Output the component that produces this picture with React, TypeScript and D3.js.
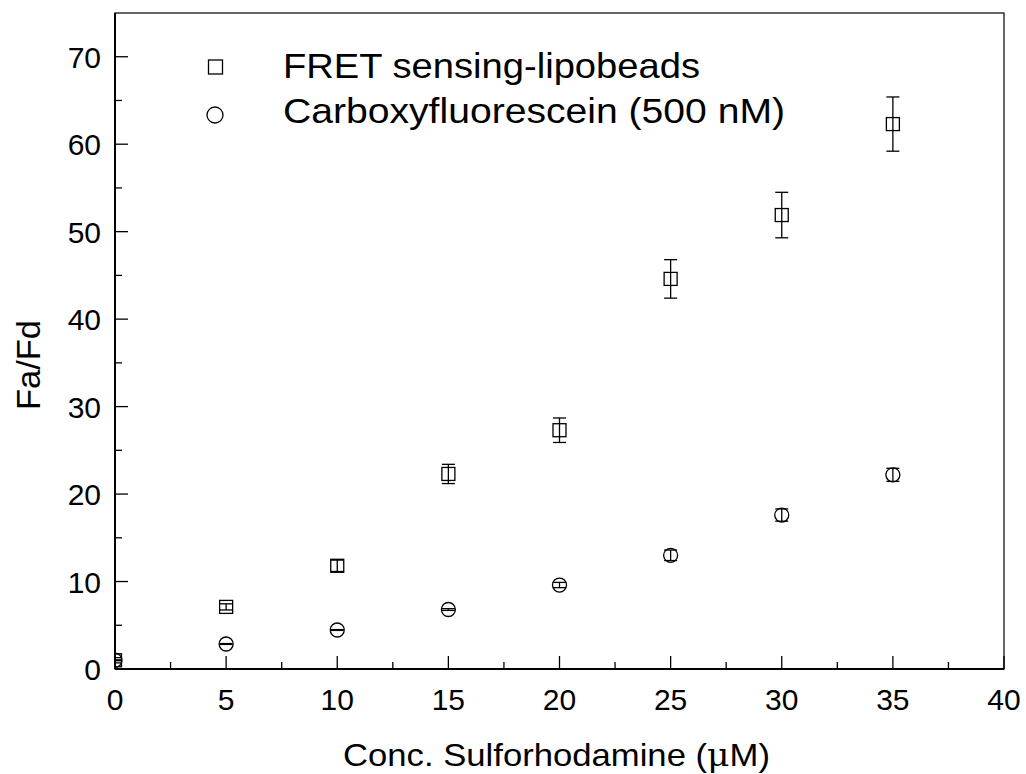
import React from "react";
import * as d3 from "d3";

const concentrations = [0, 5, 10, 15, 20, 25, 30, 35];
const fretValues = [1.0, 7.1, 11.8, 22.3, 27.3, 44.6, 51.9, 62.3];
const fretErrors = [0.3, 0.35, 0.65, 1.1, 1.4, 2.2, 2.6, 3.1];
const cfValues = [1.0, 2.86, 4.46, 6.8, 9.6, 13.0, 17.6, 22.2];
const cfErrors = [0.05, 0.05, 0.05, 0.1, 0.3, 0.6, 0.7, 0.75];
const xTicks = [0, 5, 10, 15, 20, 25, 30, 35, 40];
const yTicks = [0, 10, 20, 30, 40, 50, 60, 70];
const xMinor = [2.5, 7.5, 12.5, 17.5, 22.5, 27.5, 32.5, 37.5];
const yMinor = [5, 15, 25, 35, 45, 55, 65];
const legendLabels = ["FRET sensing-lipobeads", "Carboxyfluorescein (500 nM)"];

const W = 1026, H = 774;
const L = 115, R = 1004, T = 13, B = 669;
const font = "'Liberation Sans', Arial, sans-serif";

export default function App() {
  const x = d3.scaleLinear().domain([0, 40]).range([L, R]);
  const y = d3.scaleLinear().domain([0, 75]).range([B, T]);
  const cap = 6.5;
  const sq = 6.5;
  const cr = 7;

  const errBar = (xv: number, v: number, e: number, key: string) => (
    <g key={key} stroke="#000" strokeWidth={1.3}>
      <line x1={x(xv)} x2={x(xv)} y1={y(v + e)} y2={y(v - e)} />
      <line x1={x(xv) - cap} x2={x(xv) + cap} y1={y(v + e)} y2={y(v + e)} />
      <line x1={x(xv) - cap} x2={x(xv) + cap} y1={y(v - e)} y2={y(v - e)} />
    </g>
  );

  return (
    <svg width={W} height={H} style={{ display: "block", position: "absolute", left: 0, top: 0 }} fontFamily={font}>
      <rect width={W} height={H} fill="#fff" />
      <defs>
        <clipPath id="plotclip">
          <rect x={L} y={T} width={R - L} height={B - T} />
        </clipPath>
      </defs>
      <g clipPath="url(#plotclip)">
        {concentrations.map((c, i) => (
          <g key={"f" + i}>
            <rect x={x(c) - sq} y={y(fretValues[i]) - sq} width={sq * 2} height={sq * 2} fill="none" stroke="#000" strokeWidth={1.3} />
            {errBar(c, fretValues[i], fretErrors[i], "fe" + i)}
          </g>
        ))}
        {concentrations.map((c, i) => (
          <g key={"c" + i}>
            <circle cx={x(c)} cy={y(cfValues[i])} r={cr} fill="none" stroke="#000" strokeWidth={1.3} />
            {errBar(c, cfValues[i], cfErrors[i], "ce" + i)}
          </g>
        ))}
      </g>
      <rect x={L} y={T} width={R - L} height={B - T} fill="none" stroke="#000" strokeWidth={1.2} />
      <line x1={L} x2={R} y1={B} y2={B} stroke="#000" strokeWidth={2} />
      <line x1={L} x2={L} y1={T} y2={B} stroke="#000" strokeWidth={2} />
      {xTicks.map((t) => (
        <g key={"xt" + t}>
          <line x1={x(t)} x2={x(t)} y1={B} y2={B - 13} stroke="#000" strokeWidth={1.3} />
          <text x={x(t)} y={B + 41} textAnchor="middle" fontSize={30}>{t}</text>
        </g>
      ))}
      {xMinor.map((t) => (
        <line key={"xm" + t} x1={x(t)} x2={x(t)} y1={B} y2={B - 7} stroke="#000" strokeWidth={1.3} />
      ))}
      {yTicks.map((t) => (
        <g key={"yt" + t}>
          <line x1={L} x2={L + 13} y1={y(t)} y2={y(t)} stroke="#000" strokeWidth={1.3} />
          <text x={L - 14} y={y(t) + 11} textAnchor="end" fontSize={30}>{t}</text>
        </g>
      ))}
      {yMinor.map((t) => (
        <line key={"ym" + t} x1={L} x2={L + 7} y1={y(t)} y2={y(t)} stroke="#000" strokeWidth={1.3} />
      ))}
      <text x={343} y={766} fontSize={32} textLength={427} lengthAdjust="spacingAndGlyphs">
        Conc. Sulforhodamine (<tspan fontFamily="'DejaVu Serif', serif">μ</tspan>M)
      </text>
      <text transform={`translate(40,410) rotate(-90)`} fontSize={34} textLength={90} lengthAdjust="spacingAndGlyphs">Fa/Fd</text>
      <rect x={208.5} y={60} width={14} height={14} fill="none" stroke="#000" strokeWidth={1.3} />
      <text x={283} y={78} fontSize={35} textLength={417} lengthAdjust="spacingAndGlyphs">{legendLabels[0]}</text>
      <circle cx={215} cy={115} r={8} fill="none" stroke="#000" strokeWidth={1.3} />
      <text x={283} y={123} fontSize={35} textLength={502} lengthAdjust="spacingAndGlyphs">{legendLabels[1]}</text>
    </svg>
  );
}
